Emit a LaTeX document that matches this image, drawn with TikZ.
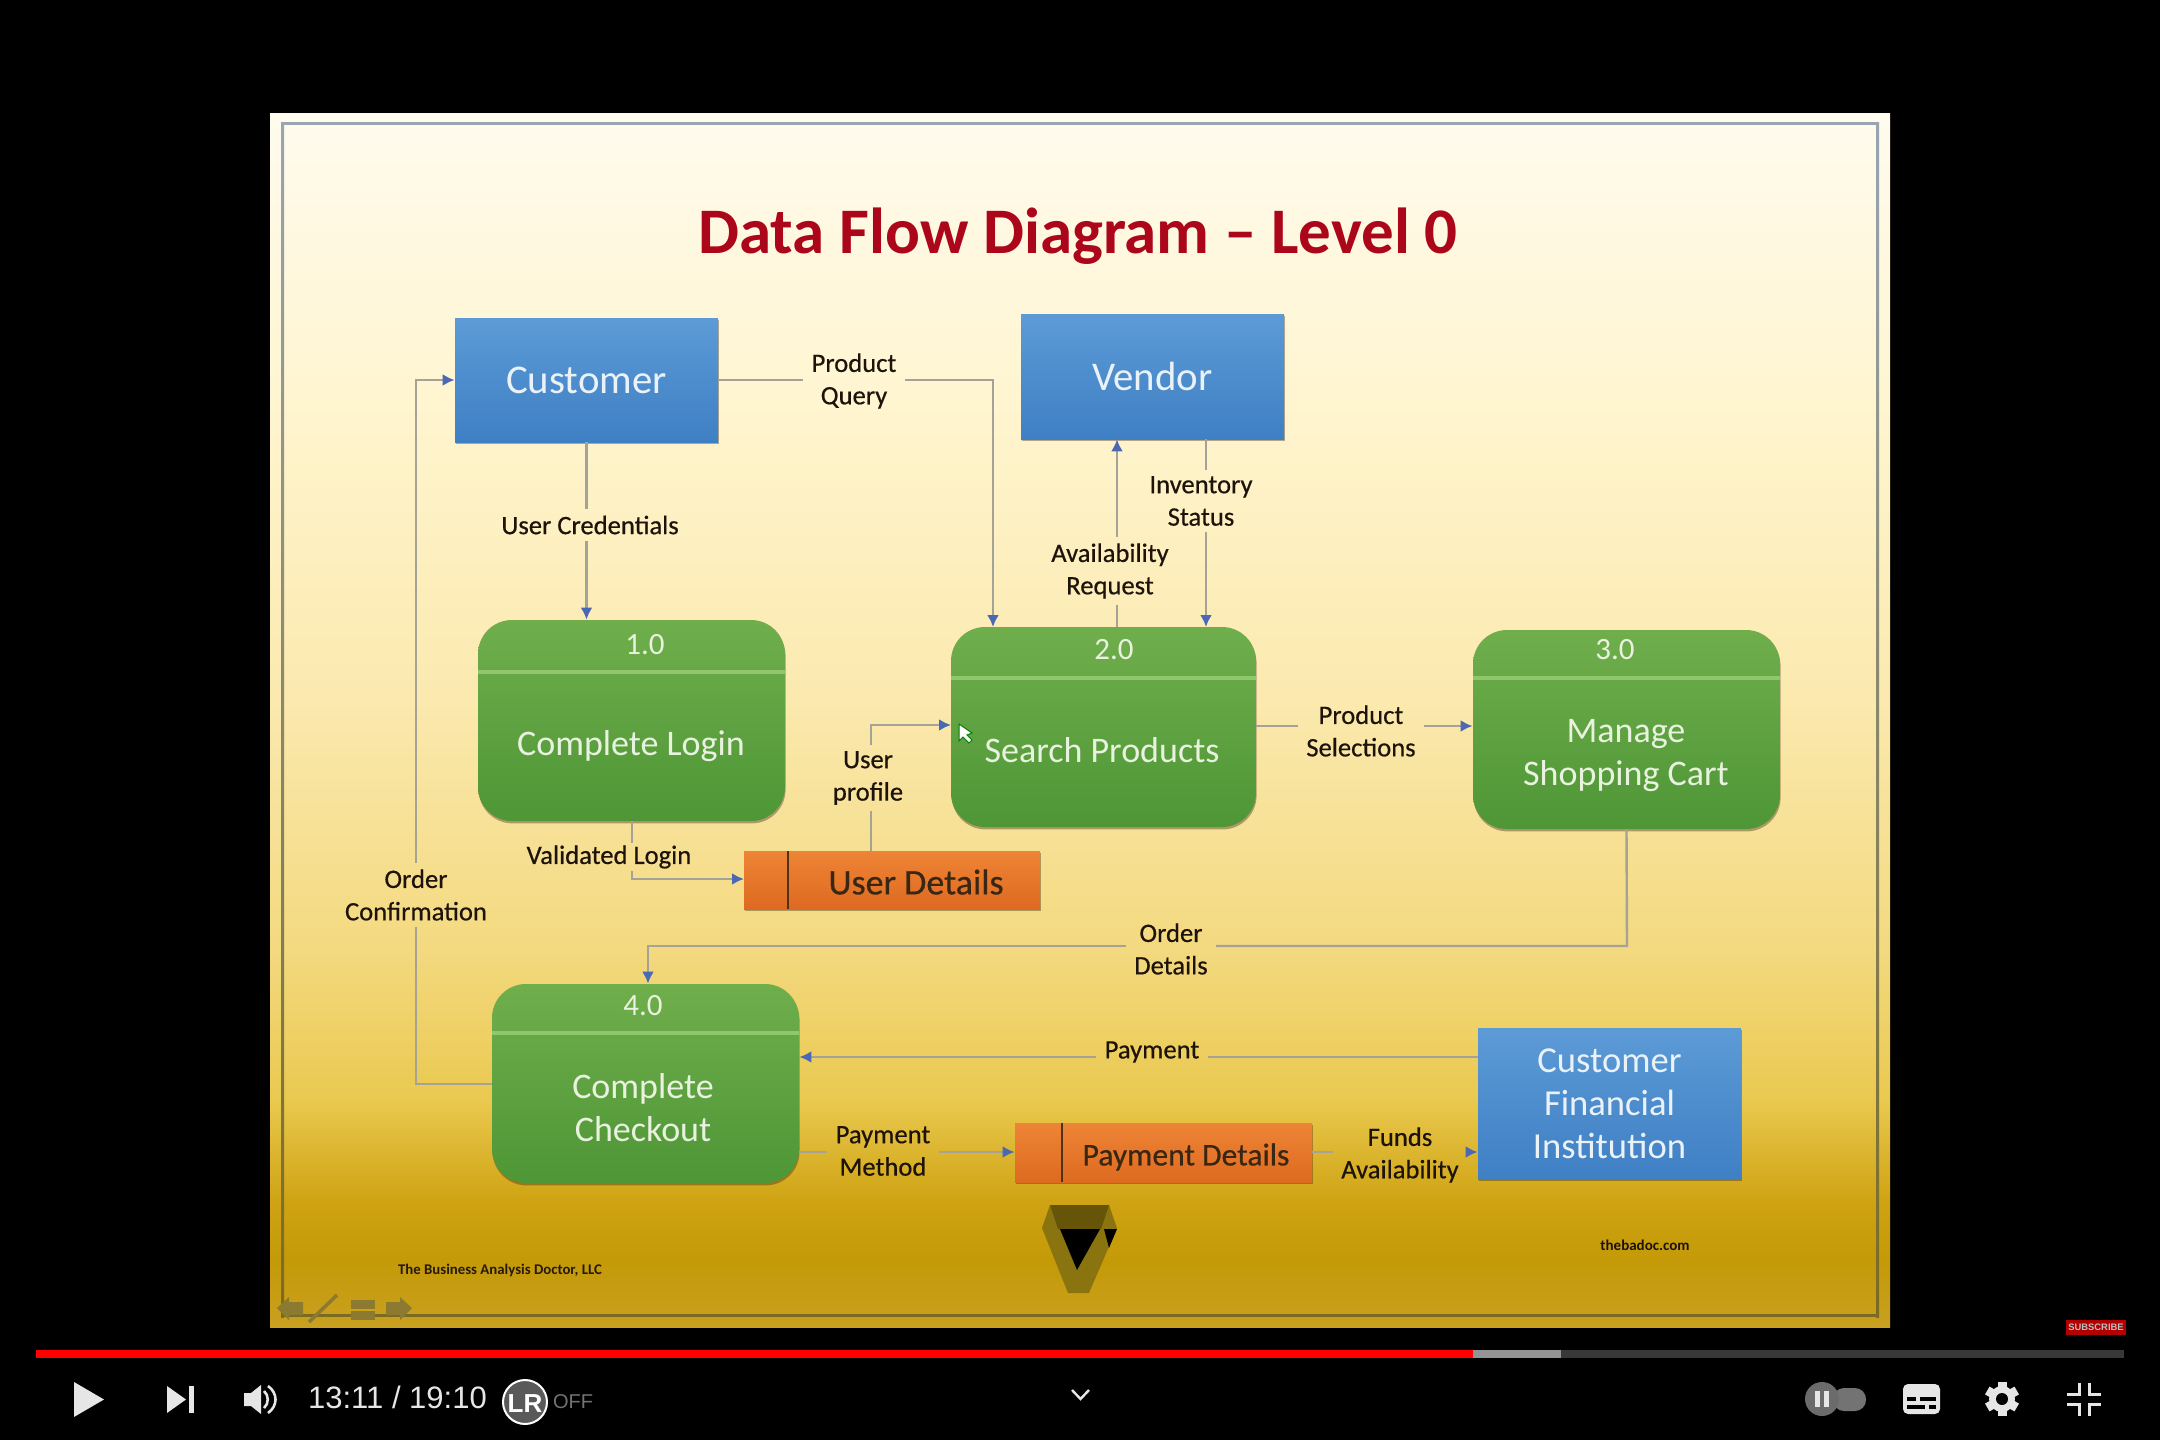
\documentclass[tikz,border=0pt]{standalone}
\usepackage{fontspec}
\setmainfont{Carlito}
\newfontfamily\uifont{Liberation Sans}
\newfontfamily\lblfont[FakeBold=0.5]{Carlito}
\usetikzlibrary{arrows.meta,shadows,calc}
\definecolor{sA}{HTML}{C9A020}\definecolor{sB}{HTML}{C49A08}\definecolor{sC}{HTML}{CFA313}
\definecolor{sD}{HTML}{EAC94F}\definecolor{sE}{HTML}{F3D97F}\definecolor{sF}{HTML}{FBE9AE}
\definecolor{sG}{HTML}{FFF5D0}\definecolor{sH}{HTML}{FFFBEE}
\pgfdeclareverticalshading{slidegrad}{100bp}{color(0bp)=(sA); color(25bp)=(sA); color(27.75bp)=(sB); color(30.2bp)=(sC); color(34.35bp)=(sD); color(40.5bp)=(sE); color(50.8bp)=(sF); color(63.2bp)=(sG); color(75bp)=(sH); color(100bp)=(sH)}
\definecolor{titlered}{HTML}{AC061A}
\definecolor{linegray}{HTML}{A5A298}
\definecolor{tipblue}{HTML}{4A68B4}
\definecolor{boxtxt}{HTML}{EAF2F8}
\definecolor{greentxt}{HTML}{E8F2DF}
\definecolor{framedark}{HTML}{7A6A22}
\definecolor{frametop}{HTML}{98A6B2}
\definecolor{navcol}{HTML}{8C7A30}
\definecolor{EnT}{HTML}{5C9BD6}\definecolor{EnB}{HTML}{3F7FC4}
\definecolor{Pt}{HTML}{70AE4C}\definecolor{Pb}{HTML}{4E9636}\definecolor{OrT}{HTML}{EE8436}\definecolor{OrB}{HTML}{DD6A20}
\definecolor{Dv}{HTML}{90C66E}\definecolor{UIw}{HTML}{E6E6E6}
\tikzset{
  x=0.5pt,y=-0.5pt,
  sized/.style 2 args={minimum width=#1*0.5pt,minimum height=#2*0.5pt,inner sep=0pt},
  softshadow/.style={drop shadow={shadow xshift=0.3pt,shadow yshift=-1.2pt,opacity=.38,fill=black!70!brown}},
  entity/.style={rectangle,top color=EnT,bottom color=EnB,softshadow,text=boxtxt,align=center,font=\fontsize{20.4pt}{21.5pt}\selectfont},
  procbox/.style={rectangle,rounded corners=17pt,top color=Pt,bottom color=Pb,softshadow},
  store/.style={rectangle,top color=OrT,bottom color=OrB,softshadow},
  ptext/.style={text=greentxt,align=center,font=\fontsize{18pt}{21.5pt}\selectfont},
  pnum/.style={text=greentxt,font=\fontsize{15.5pt}{18pt}\selectfont},
  stxt/.style={text=black!70!brown,font=\lblfont\fontsize{18pt}{20pt}\selectfont},
  lbl/.style={text=black!85!brown,align=center,font=\lblfont\fontsize{13.3pt}{16.2pt}\selectfont,inner xsep=4pt,inner ysep=3pt},
  flow/.style={draw=linegray,line width=1.2pt},
  arr/.style={flow,-{Latex[length=6pt,width=6pt,color=tipblue]}},
  divline/.style={draw=Dv,line width=2pt},
  ui/.style={fill=UIw,draw=none}
}
\begin{document}
\begin{tikzpicture}
\useasboundingbox (0,0) rectangle (2160,1440);
\fill[black] (0,0) rectangle (2160,1440);
% slide
\shade[shading=slidegrad] (270,113) rectangle (1890,1327);
% frame
\fill[frametop] (281,122) rectangle (1879,125);
\fill[framedark] (281,1314) rectangle (1879,1317);
\shade[top color=frametop,bottom color=framedark] (281,122) rectangle (284,1317);
\shade[top color=frametop,bottom color=framedark] (1876,122) rectangle (1879,1317);
% title
\node[font=\bfseries\fontsize{32.5pt}{36pt}\selectfont,text=titlered] (title) at (1078,236) {Data Flow Diagram -- Level 0};
% entities
\node[entity,sized={263}{124}] (customer) at (586.5,380) {Customer};
\node[entity,sized={263}{125}] (vendor) at (1152.5,376.5) {Vendor};
\node[entity,font=\fontsize{18.3pt}{21.5pt}\selectfont,sized={263}{151}] (cfi) at (1609.5,1103.5) {Customer\\Financial\\Institution};
% processes
\node[procbox,sized={307}{201}] (p1) at (631.5,720.5) {};
\node[procbox,sized={305}{200}] (p2) at (1103.5,727) {};
\node[procbox,sized={307}{199}] (p3) at (1626.5,729.5) {};
\node[procbox,sized={307}{199}] (p4) at (645.5,1083.5) {};
\draw[divline] (478,672) -- (785,672);
\draw[divline] (951,678) -- (1256,678);
\draw[divline] (1473,678) -- (1780,678);
\draw[divline] (492,1033) -- (799,1033);
\node[pnum] (n1) at (645,645) {1.0};
\node[pnum] (n2) at (1114,650) {2.0};
\node[pnum] (n3) at (1615,650) {3.0};
\node[pnum] (n4) at (643,1006) {4.0};
\node[ptext] (t1) at (631,746) {Complete Login};
\node[ptext] (t2) at (1102,750) {Search Products};
\node[ptext] (t3) at (1626,756) {Manage\\Shopping Cart};
\node[ptext] (t4) at (643,1108) {Complete\\Checkout};
% stores
\node[store,sized={296}{58}] (ud) at (892,880) {};
\node[store,sized={297}{59}] (pd) at (1163.5,1152.5) {};
\draw[black!60!brown,line width=1pt] (788,851) -- (788,909);
\draw[black!60!brown,line width=1pt] (1062,1123) -- (1062,1182);
\node[stxt] (udt) at (916,882) {User Details};
\node[stxt,font=\lblfont\fontsize{15.8pt}{20pt}\selectfont] (pdt) at (1186,1157) {Payment Details};
% labels
\node[lbl] (lUC) at (590,525) {User Credentials};
\node[lbl] (lPQ) at (854,381) {Product\\Query};
\node[lbl] (lAR) at (1110,571) {Availability\\Request};
\node[lbl] (lIS) at (1201,501) {Inventory\\Status};
\node[lbl] (lPS) at (1361,731) {Product\\Selections};
\node[lbl] (lUP) at (868,778) {User\\profile};
\node[lbl,inner ysep=1pt] (lVL) at (609,857) {Validated Login};
\node[lbl] (lOC) at (416,895) {Order\\Confirmation};
\node[lbl] (lOD) at (1171,949) {Order\\Details};
\node[lbl] (lP) at (1152,1052) {Payment};
\node[lbl] (lPM) at (883,1151) {Payment\\Method};
\node[lbl] (lFA) at (1400,1155) {Funds\\Availability};
% connector anchor points
\coordinate (ucEnd) at (customer.south |- p1.north);
\coordinate (pqDrop) at (993,627);
\coordinate (avx) at (1117,627);
\coordinate (isx) at (1206,627);
\coordinate (ps) at (1256,726);
\coordinate (up) at (871,851);
\coordinate (upEnd) at (951,725);
\coordinate (vl) at (632,821);
\coordinate (vlEnd) at (744,879);
\coordinate (odr) at (1627,946);
\coordinate (odl) at (648,946);
\coordinate (ocb) at (416,1084);
\coordinate (pay) at (1478,1057);
\coordinate (pm) at (799,1152);
% connectors
\draw[flow] (customer.south) -- (customer.south |- lUC.north);
\draw[arr] (customer.south |- lUC.south) -- (ucEnd);
\draw[flow] (customer.east) -- (customer.east -| lPQ.west);
\draw[arr] (customer.east -| lPQ.east) -| (pqDrop);
\draw[flow] (avx) -- (avx |- lAR.south);
\draw[arr] (avx |- lAR.north) -- (avx |- vendor.south);
\draw[flow] (isx |- vendor.south) -- (isx |- lIS.north);
\draw[arr] (isx |- lIS.south) -- (isx);
\draw[flow] (ps) -- (ps -| lPS.west);
\draw[arr] (ps -| lPS.east) -- (ps -| p3.west);
\draw[flow] (up) -- (up |- lUP.south);
\draw[arr] (up |- lUP.north) |- (upEnd);
\draw[flow] (vl) -- (vl |- lVL.north);
\draw[arr] (vl |- lVL.south) |- (vlEnd);
\draw[flow] (p3.south) -- (odr) -- (odr -| lOD.east);
\draw[arr] (odr -| lOD.west) -- (odl) -- (odl |- p4.north);
\draw[flow] (ocb -| p4.west) -- (ocb) -- (ocb |- lOC.south);
\draw[arr] (ocb |- lOC.north) |- (customer.west);
\draw[flow] (pay) -- (pay -| lP.east);
\draw[arr] (pay -| lP.west) -- (pay -| p4.east);
\draw[flow] (pm) -- (pm -| lPM.west);
\draw[arr] (pm -| lPM.east) -- (pm -| pd.west);
\draw[flow] (pm -| pd.east) -- (pm -| lFA.west);
\draw[arr] (pm -| lFA.east) -- (pm -| cfi.west);
% cursor
\fill[white] (959,724) -- (959,741) -- (963,737) -- (969,743) -- (972,740) -- (967,735) -- (972,733) -- cycle;
\draw[green!50!black,line width=.5pt] (959,724) -- (959,741) -- (963,737) -- (969,743) -- (972,740) -- (967,735) -- (972,733) -- cycle;
% logo
\definecolor{logoA}{HTML}{8A7410}\definecolor{logoB}{HTML}{665508}
\fill[logoA] (1050,1205) -- (1109,1205) -- (1117,1228) -- (1089,1293) -- (1068,1293) -- (1042,1228) -- cycle;
\fill[logoB] (1050,1205) -- (1109,1205) -- (1101,1229) -- (1058,1229) -- cycle;
\fill[black] (1060,1229) -- (1100,1229) -- (1077,1270) -- cycle;
\fill[black] (1104,1229) -- (1117,1229) -- (1109,1248) -- cycle;
% footers
\node[font=\bfseries\fontsize{7.4pt}{8pt}\selectfont,text=black!80!brown] (foot1) at (500,1270) {The Business Analysis Doctor, LLC};
\node[font=\bfseries\fontsize{7.5pt}{9pt}\selectfont,text=black!85!brown] (foot2) at (1645,1245) {thebadoc.com};
% nav icons
\fill[navcol] (277,1308) -- (289,1297) -- (289,1302) -- (303,1302) -- (303,1315) -- (289,1315) -- (289,1320) -- cycle;
\draw[navcol,line width=1.8pt] (309,1322) -- (337,1295);
\fill[navcol] (351,1300) rectangle (375,1320);
\draw[sC,line width=.6pt] (351,1310) -- (375,1310);
\fill[navcol] (412,1308) -- (400,1297) -- (400,1302) -- (386,1302) -- (386,1315) -- (400,1315) -- (400,1320) -- cycle;
% YouTube progress bar
\fill[black!78] (36,1350) rectangle (2124,1358);
\fill[black!42] (1473,1350) rectangle (1561,1358);
\fill[red] (36,1350) rectangle (1473,1358);
% subscribe
\fill[red!70!black] (2066,1320) rectangle (2126,1335);
\node[font=\uifont\bfseries\fontsize{4.7pt}{6pt}\selectfont,text=black!25,inner sep=0pt] (sub) at (2096,1327.5) {SUBSCRIBE};
% controls left
\fill[ui] (74,1382) -- (104,1399.5) -- (74,1417) -- cycle;
\fill[ui] (167,1386) -- (186,1399.5) -- (167,1413) -- cycle;
\fill[ui] (189,1386) rectangle (194,1413);
\fill[ui] (244,1393) -- (251,1393) -- (261,1385) -- (261,1414) -- (251,1406) -- (244,1406) -- cycle;
\draw[UIw,line width=1.3pt] (264,1391) .. controls (269,1395) and (269,1404) .. (264,1408);
\draw[UIw,line width=1.3pt] (268,1386) .. controls (278,1393) and (278,1406) .. (268,1413);
\node[font=\uifont\fontsize{15.5pt}{18pt}\selectfont,text=UIw,inner sep=0pt] (time) at (397.5,1397) {13:11 / 19:10};
\fill[black!65,draw=white,line width=1pt] (525,1402) circle [x radius=22,y radius=22];
\node[font=\uifont\bfseries\fontsize{13pt}{16pt}\selectfont,text=white,inner sep=0pt] (lr) at (525,1404) {LR};
\node[font=\uifont\fontsize{10pt}{12pt}\selectfont,text=black!55,inner sep=0pt] (off) at (573,1402) {OFF};
\draw[UIw,line width=1.2pt] (1072,1390) -- (1080.5,1399) -- (1089,1390);
% controls right
\fill[black!55,rounded corners=5.5pt] (1833,1388) rectangle (1866,1411);
\fill[black!58] (1822,1399) circle (17);
\fill[ui] (1815,1391) rectangle (1820,1407);
\fill[ui] (1824,1391) rectangle (1829,1407);
\fill[ui,rounded corners=2.5pt] (1903,1384) rectangle (1940,1414);
\fill[black] (1907,1397) rectangle (1916,1401);
\fill[black] (1920,1397) rectangle (1936,1401);
\fill[black] (1907,1405) rectangle (1925,1409);
\fill[black] (1929,1405) rectangle (1936,1409);
\foreach \a in {0,60,...,300}{\fill[ui,shift={(2002,1399)},rotate=\a] (-4.5,-17) rectangle (4.5,-9);}
\fill[ui] (2002,1399) circle (13);
\fill[black] (2002,1399) circle (6);
\fill[ui] (2078,1383) rectangle (2081,1396);
\fill[ui] (2067,1393) rectangle (2081,1396);
\fill[ui] (2088,1383) rectangle (2091,1396);
\fill[ui] (2088,1393) rectangle (2101,1396);
\fill[ui] (2067,1403) rectangle (2081,1406);
\fill[ui] (2078,1403) rectangle (2081,1416);
\fill[ui] (2088,1403) rectangle (2101,1406);
\fill[ui] (2088,1403) rectangle (2091,1416);
\end{tikzpicture}
\end{document}
